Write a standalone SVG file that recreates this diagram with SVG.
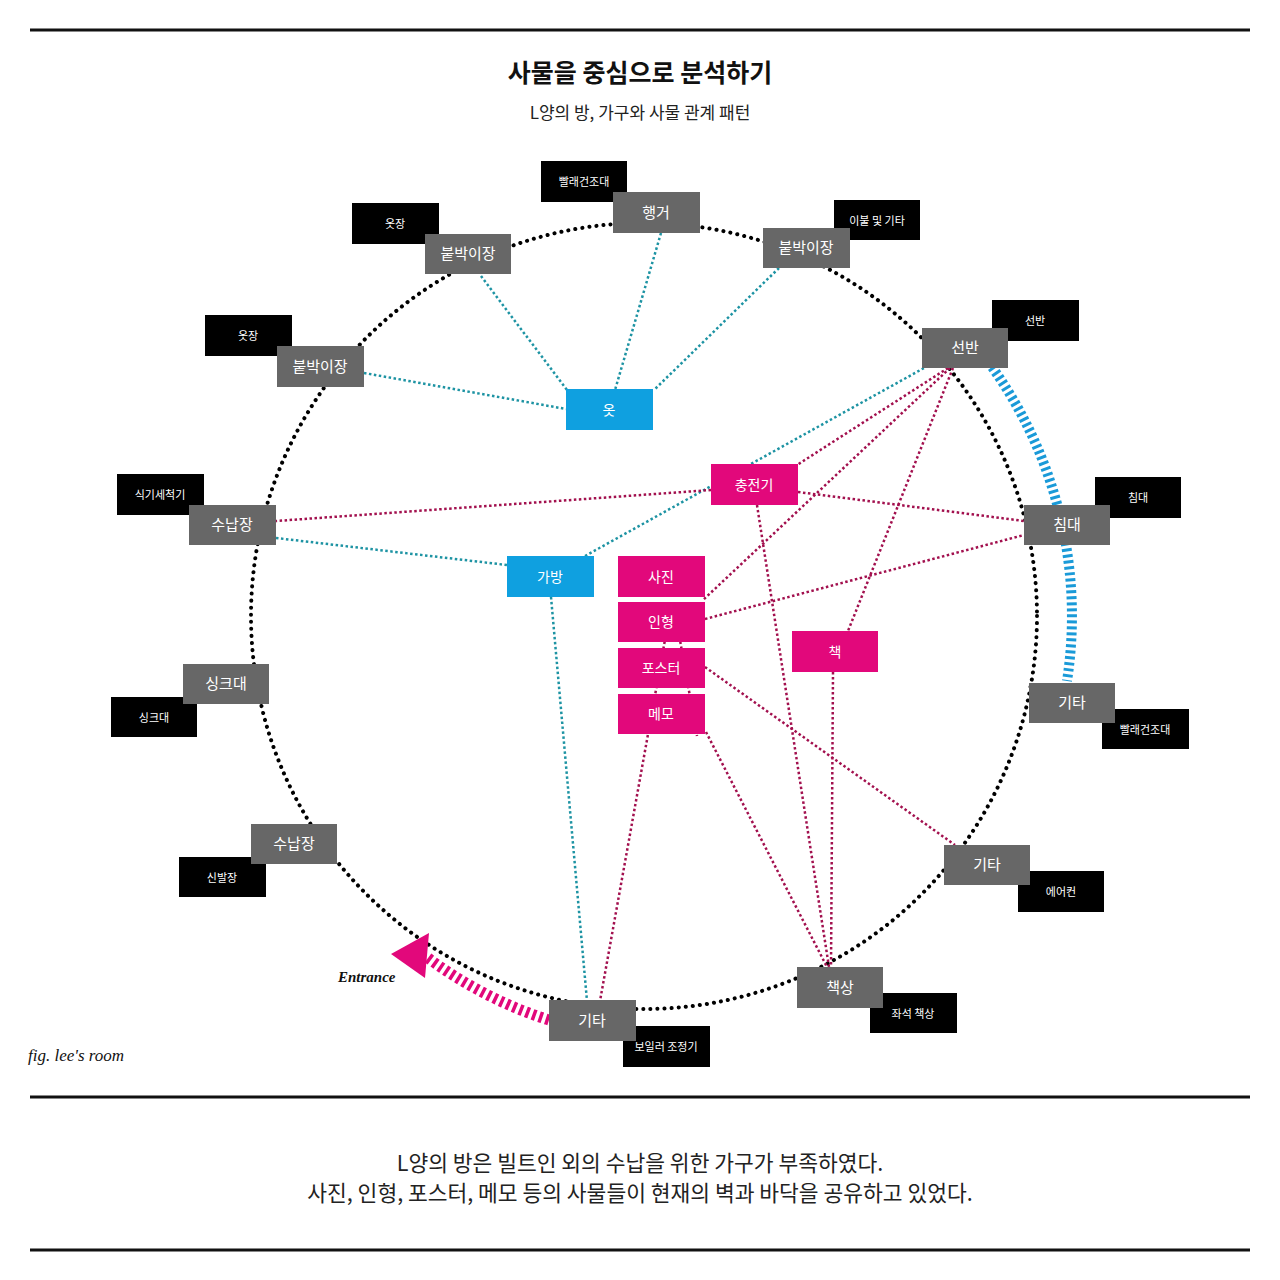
<svg xmlns="http://www.w3.org/2000/svg" width="1280" height="1280" viewBox="0 0 1280 1280">
<style>
.kr{font-family:"Noto Sans CJK KR","Noto Sans",sans-serif;}
.rule{stroke:#111;stroke-width:3;}
.gray rect{fill:#676767;}
.gray text{fill:#fff;font-size:15px;text-anchor:middle;}
.blk rect{fill:#000;}
.blk text{fill:#fff;font-size:11px;text-anchor:middle;}
.mag rect{fill:#e2087b;}
.blu rect{fill:#0fa0e0;}
.mag text,.blu text{fill:#fff;font-size:14px;text-anchor:middle;}
.teal{stroke:#1d93a3;stroke-width:2.5;stroke-dasharray:2.5 2.5;fill:none;}
.crim{stroke:#a2104e;stroke-width:2.5;stroke-dasharray:2.5 2.5;fill:none;}
.ring{stroke:#000;stroke-width:4;stroke-linecap:round;stroke-dasharray:0.1 7;fill:none;}
</style>
<rect x="0" y="0" width="1280" height="1280" fill="#fff"/>
<line class="rule" x1="30" y1="30" x2="1250" y2="30"/>
<line class="rule" x1="30" y1="1097" x2="1250" y2="1097"/>
<line class="rule" x1="30" y1="1250" x2="1250" y2="1250"/>
<text class="kr" x="640" y="82" font-size="25" font-weight="600" text-anchor="middle" fill="#111">사물을 중심으로 분석하기</text>
<text class="kr" x="640" y="119" font-size="17" text-anchor="middle" fill="#222">L양의 방, 가구와 사물 관계 패턴</text>

<g id="connectors">
<circle class="ring" cx="644" cy="616" r="393"/>
<path d="M992,367 A428,428 0 0,1 1067,681" fill="none" stroke="#1a9ad8" stroke-width="10" stroke-dasharray="3 3"/>
<path d="M549,1020 A415,415 0 0,1 428,958" fill="none" stroke="#e2087b" stroke-width="11" stroke-dasharray="3.5 3.5"/>
<polygon points="391,954 429,933 425,978" fill="#e2087b"/>
<line class="teal" x1="481" y1="276" x2="567" y2="390"/>
<line class="teal" x1="661" y1="233" x2="615" y2="390"/>
<line class="teal" x1="779" y1="268" x2="654" y2="390"/>
<line class="teal" x1="364" y1="373" x2="566" y2="409"/>
<line class="teal" x1="585" y1="556" x2="924" y2="368"/>
<line class="teal" x1="276" y1="538" x2="507" y2="565"/>
<line class="teal" x1="551" y1="597" x2="587" y2="1001"/>
<line class="crim" x1="711" y1="490" x2="276" y2="521"/>
<line class="crim" x1="798" y1="492" x2="1024" y2="521"/>
<line class="crim" x1="757" y1="505" x2="829" y2="967"/>
<line class="crim" x1="948" y1="368" x2="797" y2="465"/>
<line class="crim" x1="950" y1="368" x2="703" y2="600"/>
<line class="crim" x1="953" y1="368" x2="848" y2="631"/>
<line class="crim" x1="705" y1="619" x2="1024" y2="535"/>
<line class="crim" x1="705" y1="667" x2="955" y2="845"/>
<line class="crim" x1="706" y1="732" x2="827" y2="967"/>
<line class="crim" x1="670" y1="612" x2="600" y2="1001"/>
<line class="crim" x1="675" y1="612" x2="697" y2="736"/>
<line class="crim" x1="833" y1="672" x2="831" y2="967"/>
</g>

<g id="n-hanger" class="kr"><g class="blk"><rect x="541" y="161" width="86" height="41"/><text x="584" y="186">빨래건조대</text></g><g class="gray"><rect x="613" y="192" width="87" height="41"/><text x="656" y="218">행거</text></g></g>
<g id="n-closet1" class="kr"><g class="blk"><rect x="352" y="203" width="87" height="41"/><text x="395" y="228">옷장</text></g><g class="gray"><rect x="425" y="234" width="86" height="40"/><text x="468" y="259">붙박이장</text></g></g>
<g id="n-closet2" class="kr"><g class="blk"><rect x="834" y="200" width="86" height="40"/><text x="877" y="225">이불 및 기타</text></g><g class="gray"><rect x="763" y="228" width="87" height="40"/><text x="806" y="253">붙박이장</text></g></g>
<g id="n-closet3" class="kr"><g class="blk"><rect x="205" y="315" width="87" height="41"/><text x="248" y="340">옷장</text></g><g class="gray"><rect x="277" y="346" width="87" height="41"/><text x="320" y="372">붙박이장</text></g></g>
<g id="n-shelf" class="kr"><g class="blk"><rect x="992" y="300" width="87" height="41"/><text x="1035" y="325">선반</text></g><g class="gray"><rect x="922" y="328" width="86" height="40"/><text x="965" y="353">선반</text></g></g>
<g id="n-storage1" class="kr"><g class="blk"><rect x="117" y="474" width="87" height="41"/><text x="160" y="499">식기세척기</text></g><g class="gray"><rect x="189" y="505" width="87" height="40"/><text x="232" y="530">수납장</text></g></g>
<g id="n-bed" class="kr"><g class="blk"><rect x="1095" y="477" width="86" height="41"/><text x="1138" y="502">침대</text></g><g class="gray"><rect x="1024" y="505" width="86" height="40"/><text x="1067" y="530">침대</text></g></g>
<g id="n-sink" class="kr"><g class="blk"><rect x="111" y="697" width="86" height="40"/><text x="154" y="722">싱크대</text></g><g class="gray"><rect x="183" y="664" width="86" height="40"/><text x="226" y="689">싱크대</text></g></g>
<g id="n-etc1" class="kr"><g class="blk"><rect x="1102" y="709" width="87" height="40"/><text x="1145" y="734">빨래건조대</text></g><g class="gray"><rect x="1029" y="683" width="86" height="40"/><text x="1072" y="708">기타</text></g></g>
<g id="n-storage2" class="kr"><g class="blk"><rect x="179" y="857" width="87" height="40"/><text x="222" y="882">신발장</text></g><g class="gray"><rect x="251" y="824" width="86" height="40"/><text x="294" y="849">수납장</text></g></g>
<g id="n-etc2" class="kr"><g class="blk"><rect x="1018" y="871" width="86" height="41"/><text x="1061" y="896">에어컨</text></g><g class="gray"><rect x="944" y="845" width="86" height="40"/><text x="987" y="870">기타</text></g></g>
<g id="n-desk" class="kr"><g class="blk"><rect x="870" y="993" width="87" height="40"/><text x="913" y="1018">좌석 책상</text></g><g class="gray"><rect x="797" y="967" width="86" height="41"/><text x="840" y="993">책상</text></g></g>
<g id="n-etc3" class="kr"><g class="blk"><rect x="623" y="1026" width="87" height="41"/><text x="666" y="1051">보일러 조정기</text></g><g class="gray"><rect x="549" y="1000" width="87" height="41"/><text x="592" y="1026">기타</text></g></g>

<g id="n-clothes" class="kr blu"><rect x="566" y="389" width="87" height="41"/><text x="609" y="415">옷</text></g>
<g id="n-bag" class="kr blu"><rect x="507" y="556" width="87" height="41"/><text x="550" y="582">가방</text></g>
<g id="n-charger" class="kr mag"><rect x="711" y="464" width="87" height="41"/><text x="754" y="490">충전기</text></g>
<g id="n-photo" class="kr mag"><rect x="618" y="556" width="87" height="41"/><text x="661" y="582">사진</text></g>
<g id="n-doll" class="kr mag"><rect x="618" y="602" width="87" height="40"/><text x="661" y="627">인형</text></g>
<g id="n-poster" class="kr mag"><rect x="618" y="648" width="87" height="40"/><text x="661" y="673">포스터</text></g>
<g id="n-memo" class="kr mag"><rect x="618" y="694" width="87" height="40"/><text x="661" y="719">메모</text></g>
<g id="n-book" class="kr mag"><rect x="792" y="631" width="86" height="41"/><text x="835" y="657">책</text></g>

<text x="338" y="982" font-family="Liberation Serif,serif" font-style="italic" font-weight="bold" font-size="15" fill="#111">Entrance</text>
<text x="28" y="1061" font-family="Liberation Serif,serif" font-style="italic" font-size="17" fill="#111">fig. lee's room</text>
<text class="kr" x="640" y="1171" font-size="21.5" text-anchor="middle" fill="#222">L양의 방은 빌트인 외의 수납을 위한 가구가 부족하였다.</text>
<text class="kr" x="640" y="1201" font-size="21.5" text-anchor="middle" fill="#222">사진, 인형, 포스터, 메모 등의 사물들이 현재의 벽과 바닥을 공유하고 있었다.</text>
</svg>
